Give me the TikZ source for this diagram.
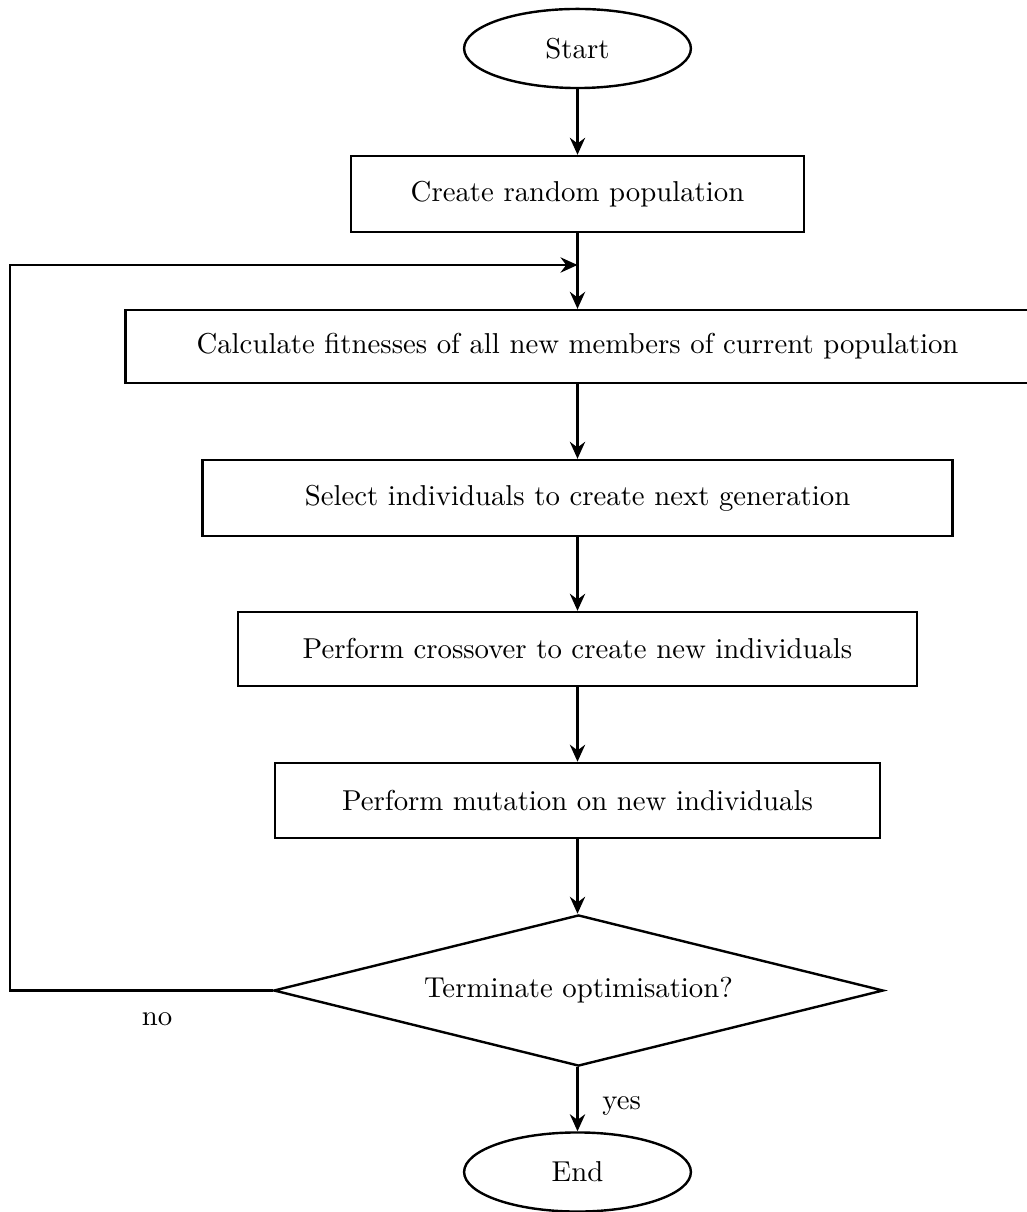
\documentclass[tikz,border=0pt]{standalone}
\usetikzlibrary{shapes.geometric,arrows.meta}
\begin{document}
\begin{tikzpicture}[x=0.3527pt,y=-0.3527pt,
  every node/.style={font=\fontsize{10.15}{12}\selectfont},
  procbox/.style={draw,line width=0.85pt,rectangle,inner sep=0pt},
  termbox/.style={draw,line width=0.85pt,ellipse,inner sep=0pt,minimum width=80pt,minimum height=27.9pt},
  decbox/.style={draw,line width=0.85pt,diamond,aspect=4,inner sep=0pt,minimum width=215pt,minimum height=53.3pt},
  flow/.style={line width=0.85pt,-{Stealth[length=6pt,width=5.4pt,inset=2pt]}}]
\useasboundingbox (0,0) rectangle (1026,1212);
\node[termbox] (start) at (577.5,48.5) {Start};
\node[procbox,minimum width=159.8pt,minimum height=26.8pt] (create) at (577.5,194) {Create random population};
\node[procbox,minimum width=318.8pt,minimum height=25.7pt] (calc) at (577.5,346.5) {Calculate fitnesses of all new members of current population};
\node[procbox,minimum width=264.5pt,minimum height=26.8pt] (select) at (577.5,498) {Select individuals to create next generation};
\node[procbox,minimum width=239.5pt,minimum height=26.1pt] (cross) at (577.5,649) {Perform crossover to create new individuals};
\node[procbox,minimum width=213.4pt,minimum height=26.5pt] (mut) at (577.5,800.5) {Perform mutation on new individuals};
\node[decbox] (dec) at (578.5,990.5) {Terminate optimisation?};
\node[termbox] (end) at (577.5,1172) {End};
\coordinate (join) at (577.5,265);
\coordinate (c1) at (10,990.5);
\coordinate (c2) at (10,265);
\draw[flow] (start) -- (create);
\draw[flow] (create) -- (calc);
\draw[flow] (calc) -- (select);
\draw[flow] (select) -- (cross);
\draw[flow] (cross) -- (mut);
\draw[flow] (mut.south) -- (dec.north -| mut.south);
\draw[flow] (dec.south -| end.north) -- node[right=5pt,pos=0.6] (yes) {yes} (end.north);
\draw[flow] (dec.west) -- node[below=4pt,pos=0.44] (no) {no} (c1) -- (c2) -- (join);
\end{tikzpicture}
\end{document}
